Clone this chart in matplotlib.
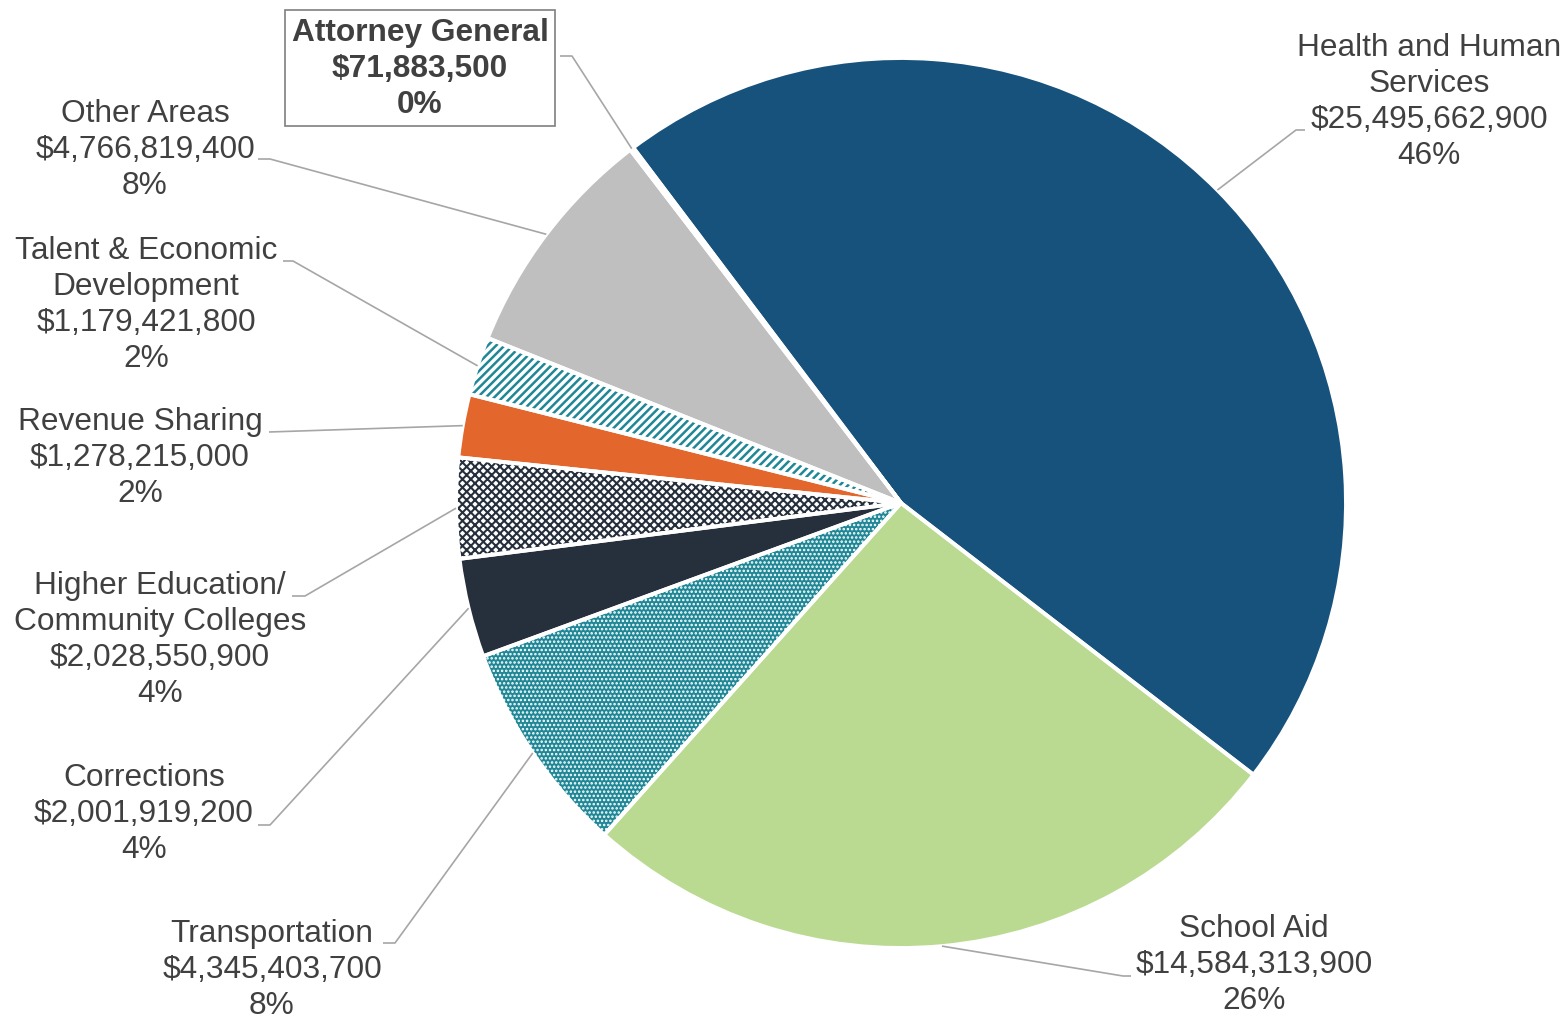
import matplotlib
matplotlib.use("Agg")
import matplotlib.pyplot as plt
import numpy as np

# ---------------- data ----------------
categories = ["Health and Human\nServices", "School Aid", "Transportation", "Corrections",
              "Higher Education/\nCommunity Colleges", "Revenue Sharing",
              "Talent & Economic\nDevelopment", "Other Areas", "Attorney General"]
values = [25495662900, 14584313900, 4345403700, 2001919200, 2028550900,
          1278215000, 1179421800, 4766819400, 71883500]
pct_labels = [46, 26, 8, 4, 4, 2, 2, 8, 0]

# ---------------- style ----------------
face_colors = ["#17527D", "#BBDA91", "#1F8796", "#262F3C", "white",
               "#E3672D", "white", "#BFBFBF", "white"]
hatch_colors = ["#17527D", "#BBDA91", "white", "#262F3C", "#262F3C",
                "#E3672D", "#1F8796", "#BFBFBF", "white"]
hatches = [None, None, "....", None, "xxxx", None, "////", None, None]
hatch_lws = [1.0, 1.0, 1.2, 1.0, 1.5, 1.0, 1.8, 1.0, 1.0]

# label layout in pixel coordinates (center x, center y), elbow, end
label_pos = [(1429, 102), (1254, 965), (272, 970), (144, 814), (160, 640),
             (140, 458), (146, 305), (145, 150), (420, 69)]
elbows = [(1296, 131), (1123, 977), (395, 944), (270, 826), (305, 597),
          (269, 433), (293, 262), (270, 160), (572, 57)]
ends = [(1305, 131), (1131, 977), (383, 944), (258, 826), (292, 597),
        (269, 433), (283, 262), (258, 160), (560, 57)]

W, H = 1568, 1020
CX, CY, R = 901, 504, 445
TEXT = "#404040"
LINE = "#A6A6A6"
FS = 22.8
LS = 1.25

plt.rcParams["hatch.linewidth"] = 1.3
plt.rcParams["font.family"] = ["Liberation Sans", "DejaVu Sans"]

fig = plt.figure(figsize=(W / 100, H / 100), dpi=100)
ax = fig.add_axes([0, 0, 1, 1])

wedges, _ = ax.pie(values, startangle=127, counterclock=False,
                   center=(CX, H - CY), radius=R, colors=face_colors,
                   wedgeprops=dict(linewidth=0))
for w, hc, h, hl in zip(wedges, hatch_colors, hatches, hatch_lws):
    w.set_edgecolor(hc)
    w.set_linewidth(0)
    if h:
        w.set_hatch(h)
        if hasattr(w, "set_hatch_linewidth"):
            w.set_hatch_linewidth(hl)

# white separators on top
ax.pie(values, startangle=127, counterclock=False, center=(CX, H - CY), radius=R,
       colors=["none"] * len(values),
       wedgeprops=dict(linewidth=2.8, edgecolor="white", fill=False))

for i, w in enumerate(wedges):
    mid = np.deg2rad((w.theta1 + w.theta2) / 2)
    sx = CX + R * np.cos(mid)
    sy = (H - CY) + R * np.sin(mid)
    ex, ey = elbows[i]
    fx, fy = ends[i]
    ax.plot([sx, ex, fx], [sy, H - ey, H - fy], color=LINE, lw=1.2,
            solid_capstyle="butt", zorder=1)
    txt = f"{categories[i]}\n${values[i]:,.0f}\n{pct_labels[i]}%"
    lx, ly = label_pos[i]
    if i == len(values) - 1:
        ax.text(lx, H - ly, txt, ha="center", va="center", fontsize=FS,
                color=TEXT, fontweight="bold", linespacing=LS,
                bbox=dict(boxstyle="square,pad=0.22", fc="white", ec="#7F7F7F", lw=1.2))
    else:
        ax.text(lx, H - ly, txt, ha="center", va="center", fontsize=FS,
                color=TEXT, linespacing=LS)

ax.set_xlim(0, W)
ax.set_ylim(0, H)
ax.set_aspect("equal")
ax.axis("off")
fig.savefig("out.png", dpi=100)
